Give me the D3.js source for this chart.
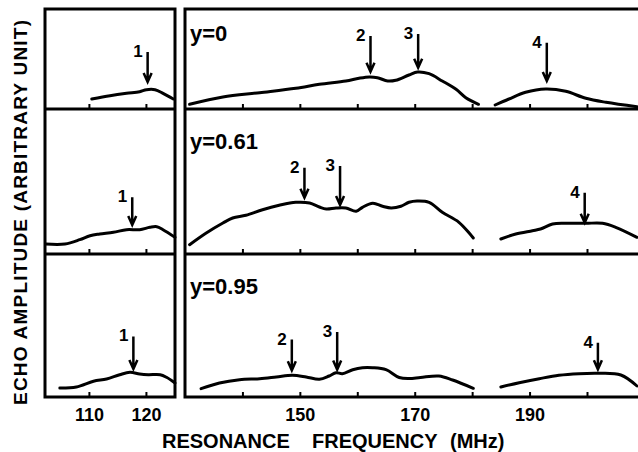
<!DOCTYPE html>
<html>
<head>
<meta charset="utf-8">
<script src="https://cdn.jsdelivr.net/npm/d3@7"></script>
<style>
  body { margin: 0; background: #fff; }
  svg { display: block; font-family: "Liberation Sans", Arial, sans-serif; font-weight: bold; }
</style>
</head>
<body>
<svg id="chart" width="638" height="452"></svg>
<script>
// echo amplitude (arb. unit) vs resonance frequency (MHz), three compositions
const rowLabels = ["y=0", "y=0.61", "y=0.95"];

// left panel: mode 1, one trace per row  [freq, amplitude]
const lowCurves = [
  [[110.5,1.0],[113.7,1.33],[116.6,1.57],[118.9,1.73],[120.1,1.93],[121.6,1.93],[123,1.57],[124.8,1.0]],
  [[102.4,1.0],[105.8,1.0],[108.4,1.43],[110.2,1.83],[111.9,2.0],[114.3,2.17],[116.6,2.43],[118.9,2.43],[120.7,2.67],[121.9,2.73],[123,2.43],[125.1,1.67]],
  [[104.9,0.9],[107.8,1.0],[110.8,1.57],[113.1,1.8],[115.4,2.23],[117.2,2.47],[118.9,2.3],[120.4,2.23],[122.5,2.23],[123.6,1.97],[125.1,1.4]]
];

// right panel: modes 2 and 3 trace
const midCurves = [
  [[130.8,0.47],[136.6,1.2],[143,1.63],[149.3,2.07],[153.4,2.47],[158,2.8],[160.3,3.07],[162.1,3.2],[163.5,3.13],[165.3,2.8],[166.7,2.87],[169,3.4],[170.5,3.7],[172.5,3.53],[174.8,2.8],[177.2,1.97],[178.9,1.13],[181.1,0.47]],
  [[130.8,0.93],[133.7,2.1],[136.6,3.1],[138.3,3.6],[140.6,3.87],[143.5,4.43],[146.4,4.87],[149.3,5.17],[151.7,5.1],[153.4,4.7],[154.6,4.5],[156.3,4.6],[158,4.6],[159.8,4.27],[160.9,4.67],[162.7,5.07],[164.4,4.77],[165.9,4.6],[167.6,4.77],[169,5.17],[170.4,5.3],[172.5,5.17],[174.8,4.17],[177.7,3.17],[180.2,1.6]],
  [[132.8,0.83],[136,1.4],[139.5,1.73],[143,1.83],[145.9,2.0],[148.7,2.17],[151.1,2.0],[153.4,1.77],[155.1,2.1],[156.3,2.43],[157.4,2.33],[159.2,2.73],[160.9,2.93],[162.7,2.93],[165,2.73],[167.3,1.95],[169,1.85],[171,1.95],[174.2,2.1],[176.6,1.7],[180.2,0.87]]
];

// right panel: mode 4 trace
const highCurves = [
  [[184,0.4],[186.4,1.0],[189.3,1.67],[192.8,2.0],[196.3,1.77],[199.8,1.07],[203.3,0.67],[208.7,0.23]],
  [[185,1.5],[187.6,2.0],[190.5,2.33],[191.9,2.5],[194,3.0],[196.3,3.07],[199.8,3.07],[202.7,3.07],[205,2.67],[208.7,1.67]],
  [[185,1.0],[188.2,1.43],[191.7,1.83],[195.1,2.17],[198.6,2.33],[202.1,2.37],[205.9,2.2],[208.7,1.1]]
];

// arrows: [label, freq, tip amplitude, top amplitude]
const lowArrows = [
  ["1", 120.3, 2.7, 5.7],
  ["1", 117.6, 2.9, 5.67],
  ["1", 117.8, 2.8, 6.06]
];
const highArrows = [
  [["2", 162.3, 3.73, 7.3], ["3", 170.6, 4.13, 7.5], ["4", 193.0, 2.8, 6.63]],
  [["2", 150.8, 5.63, 8.63], ["3", 157.0, 4.9, 8.8], ["4", 199.6, 3.13, 6.13]],
  [["2", 148.6, 2.67, 5.74], ["3", 156.5, 2.74, 6.5], ["4", 201.9, 2.77, 5.43]]
];

const lowTicks = [110, 120];
const highTicks = [140, 150, 160, 170, 180, 190, 200];
const lowTickLabels = [110, 120];
const highTickLabels = [150, 170, 190];

// layout
const rows = [
  { top: 9, base: 109 },
  { top: 109, base: 254 },
  { top: 254, base: 397 }
];
const bottom = 397;

const svg = d3.select("#chart");

const xLow = d3.scaleLinear().domain([102.3, 125.1]).range([45, 175]);
const xHigh = d3.scaleLinear().domain([130, 210.1]).range([185, 645]);

const panels = [
  { x: xLow, curves: [lowCurves], arrows: lowArrows.map(a => [a]), ticks: lowTicks, labels: lowTickLabels },
  { x: xHigh, curves: [midCurves, highCurves], arrows: highArrows, ticks: highTicks, labels: highTickLabels }
];

panels.forEach(p => {
  const [x0, x1] = p.x.range();

  // frame
  svg.append("rect")
    .attr("x", x0).attr("y", rows[0].top)
    .attr("width", x1 - x0).attr("height", bottom - rows[0].top)
    .attr("fill", "none").attr("stroke", "#000").attr("stroke-width", 3);

  rows.forEach((r, i) => {
    const y = d3.scaleLinear().domain([0, 10]).range([r.base, r.base - 100]);

    if (i < rows.length - 1) {
      svg.append("line")
        .attr("x1", x0).attr("x2", x1)
        .attr("y1", r.base).attr("y2", r.base)
        .attr("stroke", "#000").attr("stroke-width", 3);
    }

    // small inward ticks on each baseline
    const tg = svg.append("g")
      .attr("transform", `translate(0,${r.base})`)
      .call(d3.axisTop(p.x).tickValues(p.ticks).tickSize(5).tickFormat(""));
    tg.select(".domain").remove();
    tg.selectAll("line").attr("stroke-width", 2);

    const line = d3.line()
      .x(d => p.x(d[0]))
      .y(d => y(d[1]))
      .curve(d3.curveCatmullRom.alpha(0.5));

    p.curves.forEach(set => {
      svg.append("path")
        .attr("d", line(set[i]))
        .attr("fill", "none")
        .attr("stroke", "#000")
        .attr("stroke-width", 3)
        .attr("stroke-linecap", "round")
        .attr("stroke-linejoin", "round");
    });

    p.arrows[i].forEach(a => {
      const ax = p.x(a[1]), tip = y(a[2]), top = y(a[3]);
      svg.append("path")
        .attr("d", `M${ax},${top}L${ax},${tip}M${ax - 4},${tip - 9}L${ax},${tip}L${ax + 4},${tip - 9}`)
        .attr("fill", "none")
        .attr("stroke", "#000")
        .attr("stroke-width", 2.5);
      svg.append("text")
        .attr("x", ax - 5).attr("y", top + 5)
        .attr("text-anchor", "end")
        .attr("font-size", 17)
        .text(a[0]);
    });
  });

  // tick labels under the bottom row
  const lg = svg.append("g")
    .attr("transform", `translate(0,${bottom})`)
    .call(d3.axisBottom(p.x).tickValues(p.labels).tickSize(0).tickPadding(11.5));
  lg.select(".domain").remove();
  lg.selectAll("text")
    .attr("font-size", 18)
    .attr("font-family", "Liberation Sans, Arial, sans-serif")
    .attr("font-weight", "bold")
    .attr("fill", "#000");
});

// composition labels
svg.selectAll(".rowlab")
  .data(rowLabels)
  .join("text")
  .attr("class", "rowlab")
  .attr("x", 190)
  .attr("y", (d, i) => rows[i].top + (i === 0 ? 32 : 40))
  .attr("font-size", 22)
  .text(d => d);

// axis titles
const xWords = [["RESONANCE", 162], ["FREQUENCY", 312], ["(MHz)", 450]];
svg.selectAll(".xtitle")
  .data(xWords)
  .join("text")
  .attr("class", "xtitle")
  .attr("x", d => d[1])
  .attr("y", 448)
  .attr("font-size", 20)
  .text(d => d[0]);

svg.append("text")
  .attr("transform", "translate(27,212.5) rotate(-90)")
  .attr("text-anchor", "middle")
  .attr("font-size", 19)
  .attr("textLength", 385)
  .text("ECHO AMPLITUDE (ARBITRARY UNIT)");
</script>
</body>
</html>
